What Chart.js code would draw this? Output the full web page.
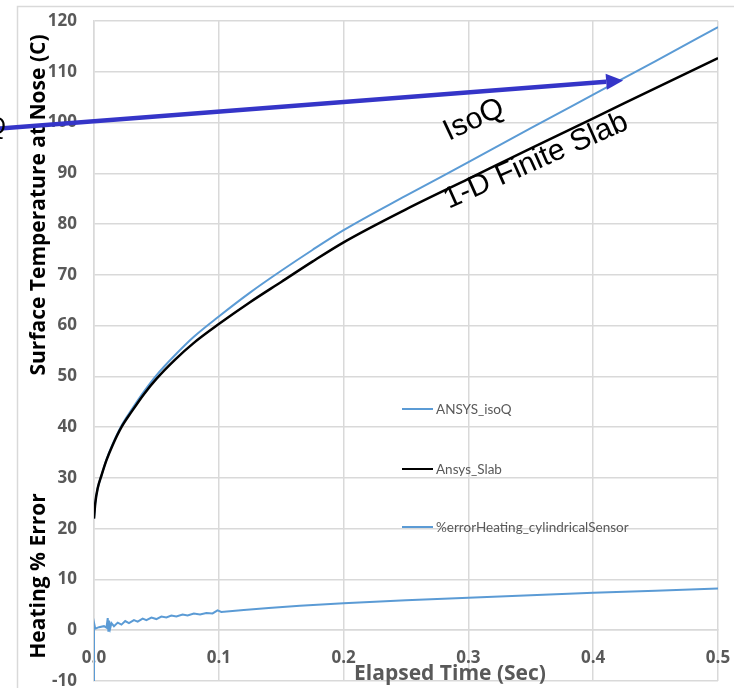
<!DOCTYPE html>
<html>
<head>
<meta charset="utf-8">
<script src="https://cdn.jsdelivr.net/npm/chart.js@4/dist/chart.umd.min.js"></script>
<style>
html, body { margin: 0; padding: 0; background: #fff; }
#wrap { width: 734px; height: 688px; }
</style>
</head>
<body>
<div id="wrap"><canvas id="noseChart" width="734" height="688"></canvas></div>
<script>
// elapsed time (sec) for the two temperature curves
var timeTemp = [0, 0.001, 0.003, 0.006, 0.01, 0.015, 0.022, 0.03, 0.04, 0.05, 0.065, 0.08, 0.1,
                0.125, 0.15, 0.175, 0.2, 0.25, 0.3, 0.35, 0.4, 0.45, 0.5];
// surface temperature at nose (C)
var isoQTemp = [22, 25, 28, 30.5, 33.6, 36.7, 40.3, 43.4, 47, 50.2, 54.2, 57.8, 61.8,
                66.5, 70.8, 74.9, 78.8, 85.6, 92.2, 98.9, 105.5, 112.1, 118.8];
var slabTemp = [22, 25, 28, 30.5, 33.5, 36.5, 40, 43, 46.5, 49.5, 53.3, 56.6, 60.3,
                64.6, 68.6, 72.6, 76.4, 82.9, 88.9, 94.9, 100.8, 106.8, 112.7];

// heating % error, cylindrical sensor
var timeErr = [0, 0, 0.001, 0.004, 0.008, 0.010, 0.011, 0.0115, 0.012, 0.013, 0.014, 0.016, 0.019,
               0.022, 0.025, 0.028, 0.032, 0.035, 0.039, 0.042, 0.046, 0.050, 0.054, 0.058, 0.062,
               0.066, 0.071, 0.075, 0.080, 0.085, 0.090, 0.095, 0.099, 0.102, 0.12, 0.14, 0.165,
               0.2, 0.25, 0.3, 0.35, 0.4, 0.45, 0.5];
var heatErr = [-12, 1.5, 0.3, 0.6, 0.8, 0.5, 2.4, -0.1, 1.9, 0.4, 1.4, 0.8, 1.5,
               1.1, 1.8, 1.4, 2.0, 1.7, 2.3, 2.0, 2.5, 2.2, 2.7, 2.5, 2.9,
               2.7, 3.1, 2.9, 3.3, 3.1, 3.4, 3.3, 3.9, 3.6, 4.0, 4.4, 4.8,
               5.3, 5.9, 6.4, 6.9, 7.4, 7.8, 8.2];

var seriesNames = ['ANSYS_isoQ', 'Ansys_Slab', '%errorHeating_cylindricalSensor'];
var seriesColors = ['#5b9bd5', '#000000', '#5b9bd5'];

// axis ranges and ticks
var xMin = 0, xMax = 0.5, xStep = 0.1;
var yMin = -10, yMax = 120, yStep = 10;

var gridColor = '#d9d9d9';
var tickColor = '#595959';
var boldFont = '"Open Sans"';

function toPoints(xs, ys) {
    return xs.map(function(x, i) { return {x: x, y: ys[i]}; });
}

// outer frame of the chart object
var framePlugin = {
    id: 'frame',
    beforeDraw: function(chart) {
        var c = chart.ctx;
        c.save();
        c.strokeStyle = gridColor;
        c.lineWidth = 1.5;
        c.strokeRect(17.5, 6.5, 800, 800);
        c.restore();
    }
};

// titles, legend, annotation text and arrow
var extrasPlugin = {
    id: 'extras',
    afterDraw: function(chart) {
        var c = chart.ctx;
        var xs = chart.scales.x, ys = chart.scales.y;
        c.save();

        // y titles
        c.fillStyle = '#000';
        c.font = 'bold 21px ' + boldFont;
        c.textAlign = 'center';
        c.textBaseline = 'middle';
        c.save();
        c.translate(39, 205);
        c.rotate(-Math.PI / 2);
        c.fillText('Surface Temperature at Nose (C)', 0, 0);
        c.restore();
        c.save();
        c.translate(39, 576);
        c.rotate(-Math.PI / 2);
        c.fillText('Heating % Error', 0, 0);
        c.restore();

        // x title
        c.fillStyle = tickColor;
        c.font = 'bold 21px ' + boldFont;
        c.fillText('Elapsed Time (Sec)', 450, 674);

        // legend inside the plot
        var legendY = [409, 469, 527];
        c.font = '13.5px Lato';
        c.textAlign = 'left';
        for (var i = 0; i < seriesNames.length; i++) {
            c.strokeStyle = seriesColors[i];
            c.lineWidth = 2;
            c.beginPath();
            c.moveTo(402, legendY[i]);
            c.lineTo(433, legendY[i]);
            c.stroke();
            c.fillStyle = tickColor;
            c.fillText(seriesNames[i], 436, legendY[i] + 1);
        }

        // arrow
        var x0 = xs.getPixelForValue(-0.0756), y0 = ys.getPixelForValue(98.8);
        var x1 = xs.getPixelForValue(0.424), y1 = ys.getPixelForValue(108.3);
        var ang = Math.atan2(y1 - y0, x1 - x0);
        var headLen = 17, headW = 8;
        var bx = x1 - headLen * Math.cos(ang), by = y1 - headLen * Math.sin(ang);
        c.strokeStyle = '#3535c8';
        c.fillStyle = '#3535c8';
        c.lineWidth = 4.5;
        c.beginPath();
        c.moveTo(x0, y0);
        c.lineTo(bx, by);
        c.stroke();
        c.beginPath();
        c.moveTo(x1, y1);
        c.lineTo(bx + headW * Math.sin(ang), by - headW * Math.cos(ang));
        c.lineTo(bx - headW * Math.sin(ang), by + headW * Math.cos(ang));
        c.closePath();
        c.fill();

        // curve labels
        c.fillStyle = '#000';
        c.font = '30px "Liberation Sans"';
        c.textAlign = 'center';
        c.textBaseline = 'middle';
        c.save();
        c.translate(474, 120);
        c.rotate(-25 * Math.PI / 180);
        c.fillText('IsoQ', 0, 0);
        c.restore();
        c.save();
        c.translate(536, 161);
        c.rotate(-24 * Math.PI / 180);
        c.fillText('1-D Finite Slab', 0, 0);
        c.restore();

        // cut-off label at the left edge
        c.font = '24px "Liberation Sans"';
        c.textAlign = 'right';
        c.fillText('Q', 6, 127);

        c.restore();
    }
};

var chart = new Chart(document.getElementById('noseChart').getContext('2d'), {
    type: 'line',
    data: {
        datasets: [
            {
                label: seriesNames[0],
                data: toPoints(timeTemp, isoQTemp),
                borderColor: seriesColors[0],
                borderWidth: 2,
                pointRadius: 0,
                cubicInterpolationMode: 'monotone',
                order: 1
            },
            {
                label: seriesNames[1],
                data: toPoints(timeTemp, slabTemp),
                borderColor: seriesColors[1],
                borderWidth: 2.5,
                pointRadius: 0,
                cubicInterpolationMode: 'monotone',
                order: 0
            },
            {
                label: seriesNames[2],
                data: toPoints(timeErr, heatErr),
                borderColor: seriesColors[2],
                borderWidth: 2,
                pointRadius: 0,
                tension: 0,
                order: 2
            }
        ]
    },
    options: {
        responsive: false,
        animation: false,
        events: [],
        layout: { padding: { left: 0, top: 21, right: 16, bottom: 7 } },
        plugins: {
            legend: { display: false },
            tooltip: { enabled: false }
        },
        scales: {
            x: {
                type: 'linear',
                min: xMin,
                max: xMax,
                position: { y: 0 },
                grid: { color: gridColor, lineWidth: 1.5, drawTicks: false },
                border: { color: gridColor, width: 1.5 },
                ticks: {
                    stepSize: xStep,
                    padding: 18,
                    color: tickColor,
                    font: { family: 'Open Sans', size: 17, weight: 'bold' },
                    maxRotation: 0,
                    callback: function(v) { return v.toFixed(1); }
                },
                afterFit: function(scale) {
                    scale.paddingLeft = 0;
                    scale.paddingRight = 0;
                }
            },
            y: {
                type: 'linear',
                min: yMin,
                max: yMax,
                position: 'left',
                grid: { color: gridColor, lineWidth: 1.5, drawTicks: false },
                border: { color: gridColor, width: 1.5 },
                ticks: {
                    stepSize: yStep,
                    padding: 17,
                    color: tickColor,
                    font: { family: 'Open Sans', size: 17, weight: 'bold' }
                },
                afterFit: function(scale) {
                    scale.width = 94;
                    scale.paddingTop = 0;
                    scale.paddingBottom = 0;
                }
            }
        }
    },
    plugins: [framePlugin, extrasPlugin]
});
</script>
</body>
</html>
